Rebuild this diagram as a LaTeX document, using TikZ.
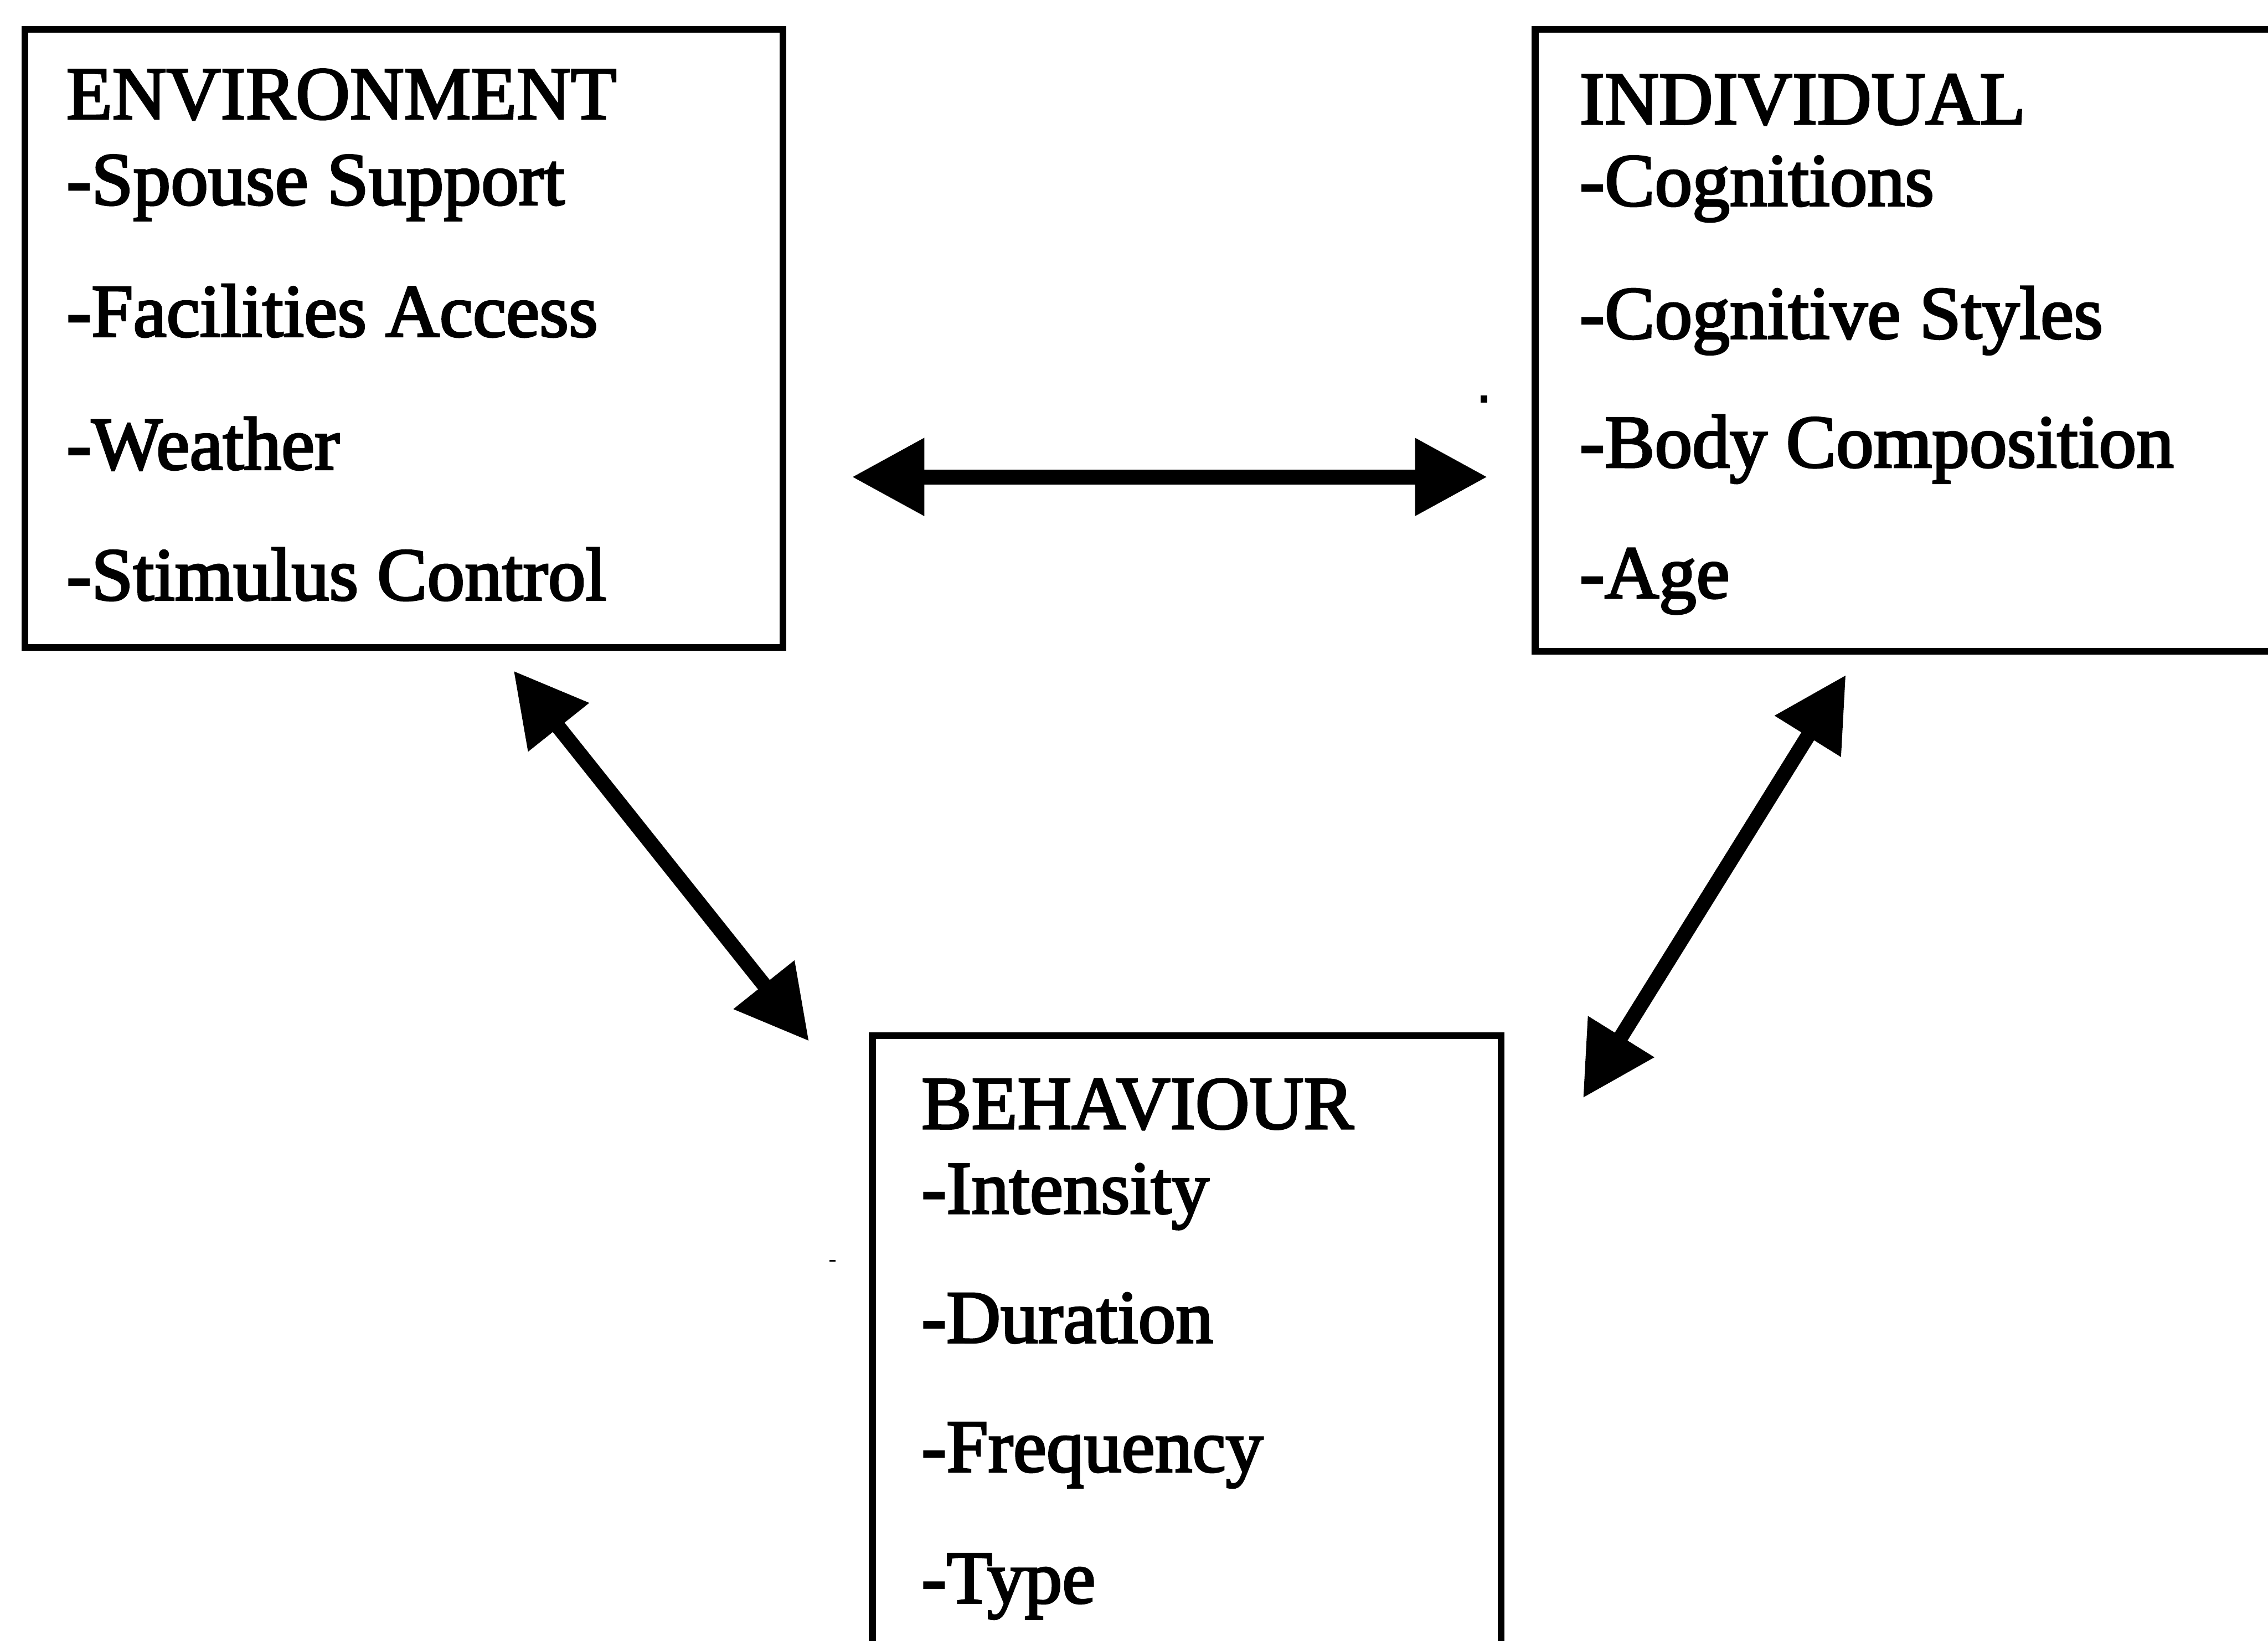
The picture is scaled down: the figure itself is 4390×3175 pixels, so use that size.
\documentclass[tikz,border=0pt]{standalone}
\usepackage{fontspec}
\setmainfont{Liberation Serif}
\usetikzlibrary{arrows.meta}
% heavier text: fill and stroke the glyph outlines
\newcommand{\heavytext}[1]{\special{pdf:literal direct 2 Tr 1.1 w}#1\special{pdf:literal direct 0 Tr}}
\begin{document}
\begin{tikzpicture}[x=0.01cm,y=-0.01cm,
  box/.style={draw, line width=0.13cm, rectangle, inner sep=0pt, anchor=north west},
  item/.style={anchor=base west, inner sep=0pt,
    font=\fontsize{41.3}{49}\selectfont},
  link/.style={line width=0.29cm,
    {Triangle[length=1.4cm,width=1.43cm]}-{Triangle[length=1.4cm,width=1.43cm]}}]
\useasboundingbox (0,0) rectangle (4390,3175);
\clip (0,0) rectangle (4390,3175);
\fill[white] (0,0) rectangle (4390,3175);

% the three boxes
\node[box, minimum width=14.66cm, minimum height=11.96cm] (env) at (42,50) {};
\node[box, minimum width=15cm, minimum height=12.03cm] (ind) at (2965,50) {};
\node[box, minimum width=12.16cm, minimum height=13cm] (beh) at (1682,1998) {};

% environment factors
\node[item] (env0) at (128,230)  {\heavytext{ENVIRONMENT}};
\node[item] (env1) at (128,396)  {\heavytext{-Spouse Support}};
\node[item] (env2) at (128,651)  {\heavytext{-Facilities Access}};
\node[item] (env3) at (128,908)  {\heavytext{-Weather}};
\node[item] (env4) at (128,1161) {\heavytext{-Stimulus Control}};

% individual factors
\node[item] (ind0) at (3057,240)  {\heavytext{INDIVIDUAL}};
\node[item] (ind1) at (3057,398)  {\heavytext{-Cognitions}};
\node[item] (ind2) at (3057,655)  {\heavytext{-Cognitive Styles}};
\node[item] (ind3) at (3057,904)  {\heavytext{-Body Composition}};
\node[item] (ind4) at (3057,1157) {\heavytext{-Age}};

% behaviour factors
\node[item] (beh0) at (1783,2184) {\heavytext{BEHAVIOUR}};
\node[item] (beh1) at (1783,2348) {\heavytext{-Intensity}};
\node[item] (beh2) at (1783,2598) {\heavytext{-Duration}};
\node[item] (beh3) at (1783,2848) {\heavytext{-Frequency}};
\node[item] (beh4) at (1783,3102) {\heavytext{-Type}};

% ends of the two-way links
\coordinate (envE) at (1649,923);
\coordinate (indW) at (2879,923);
\coordinate (envS) at (994,1298);
\coordinate (behNW) at (1566,2015);
\coordinate (indS) at (3573,1306);
\coordinate (behNE) at (3064,2125);

\draw[link] (envE) -- (indW);
\draw[link] (envS) -- (behNW);
\draw[link] (indS) -- (behNE);

% specks
\fill (2866,765) rectangle (2879,779);
\fill (1605,2438) rectangle (1617,2442);
\end{tikzpicture}
\end{document}
